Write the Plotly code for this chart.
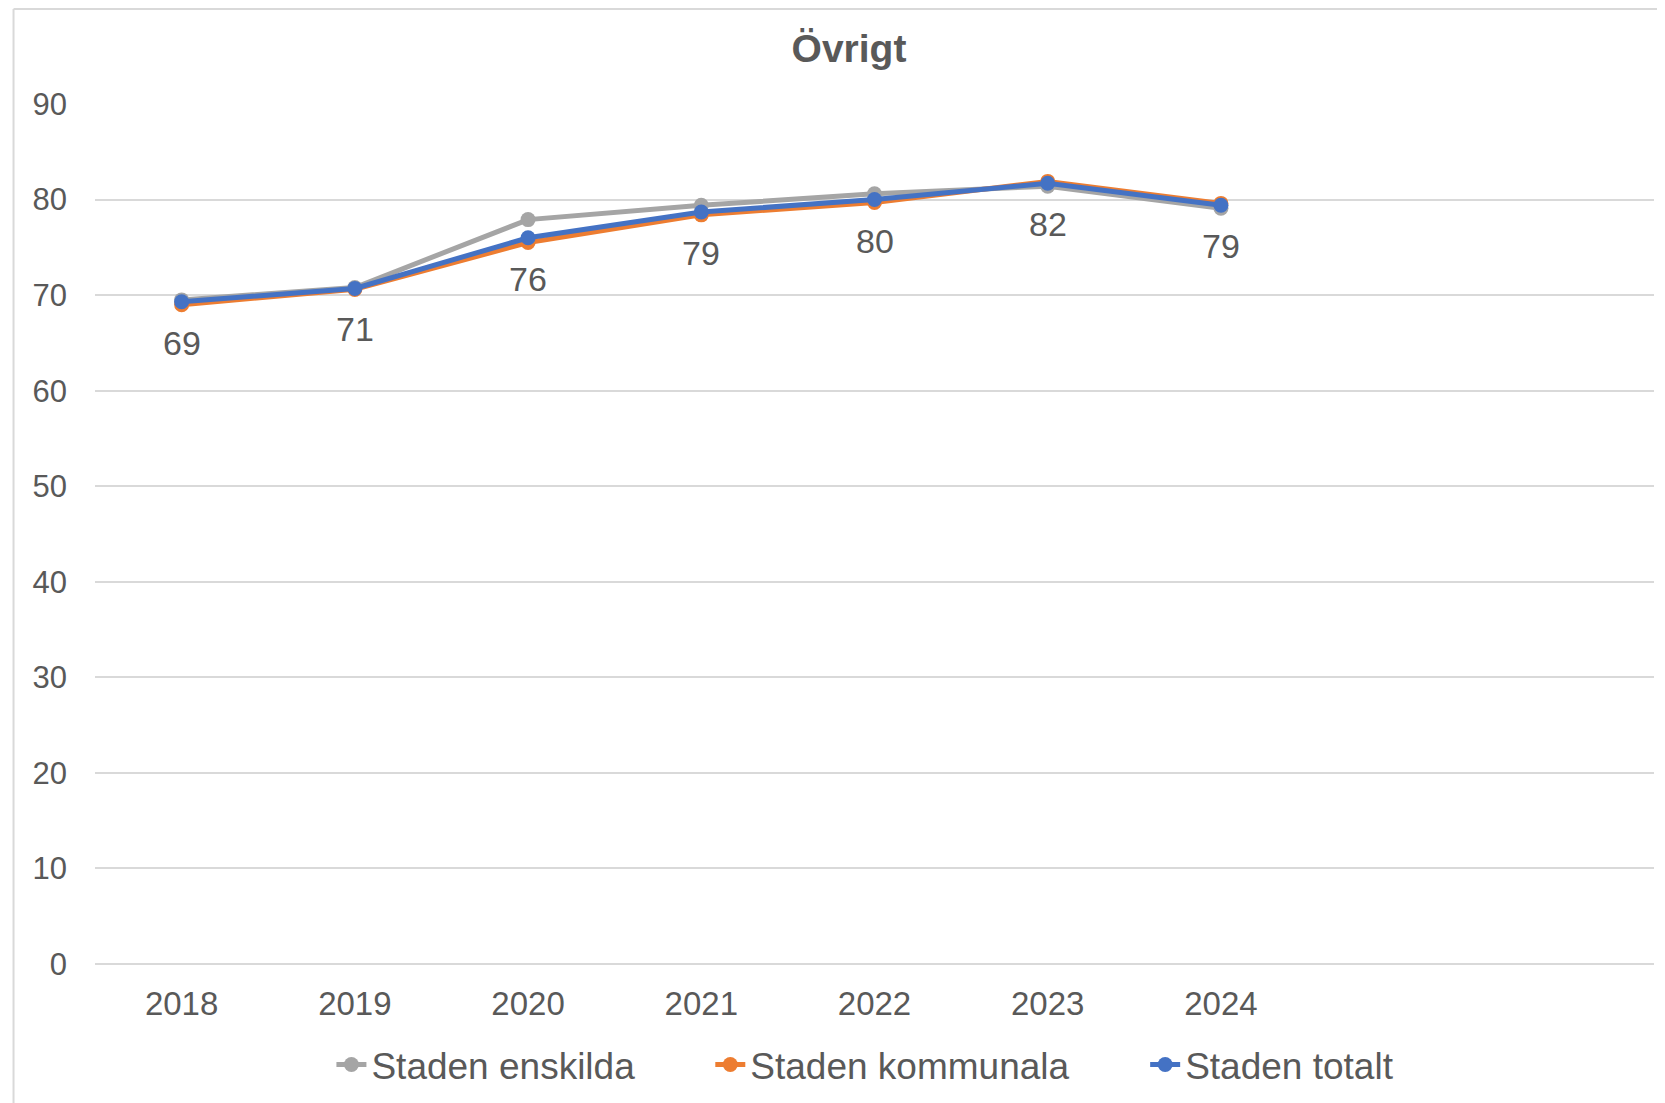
import plotly.graph_objects as go

years = [2018, 2019, 2020, 2021, 2022, 2023, 2024]
enskilda = [69.5, 70.8, 77.9, 79.4, 80.6, 81.4, 79.1]
kommunala = [69.0, 70.6, 75.5, 78.4, 79.7, 81.9, 79.6]
totalt = [69.3, 70.7, 76.0, 78.7, 80.0, 81.7, 79.4]

series = [
    ("Staden enskilda", enskilda, "#A5A5A5"),
    ("Staden kommunala", kommunala, "#ED7D31"),
    ("Staden totalt", totalt, "#4472C4"),
]

FONT = "Liberation Sans, Arial, sans-serif"
TXT = "#595959"

W, H = 1665, 1103
OFF = 8  # page body offset
# plot area in page coordinates
PL, PR, PT, PB = 94.5, 1654, 104, 964
L = PL - OFF
R = W - (PR - OFF)
T = PT - OFF
B = H - (PB - OFF)
pw, ph = W - L - R, H - T - B


def px(x):
    return (x - OFF - L) / pw


def py(y):
    return (H - B - (y - OFF)) / ph


fig = go.Figure()
legend_names = ["legend", "legend2", "legend3"]
text_starts = [376, 755, 1190]
for (name, vals, col), lg in zip(series, legend_names):
    fig.add_trace(go.Scatter(
        x=years, y=vals, name=name, mode="lines+markers",
        line=dict(color=col, width=5),
        marker=dict(color=col, size=15),
        legend=lg,
    ))

for x, v in zip(years, totalt):
    fig.add_annotation(x=x, y=v, text=f"{v:.0f}", showarrow=False,
                       yshift=-41, yanchor="middle",
                       font=dict(family=FONT, size=34, color=TXT))

legend_common = dict(orientation="h", yanchor="middle", y=py(1065),
                     xanchor="left",
                     font=dict(family=FONT, size=37, color=TXT),
                     bgcolor="rgba(0,0,0,0)")
legends = {}
for lg, ts in zip(legend_names, text_starts):
    legends[lg] = dict(legend_common, x=px(ts - 45))

fig.update_layout(
    width=W, height=H,
    margin=dict(l=L, r=R, t=T, b=B, autoexpand=False),
    paper_bgcolor="white", plot_bgcolor="white",
    font=dict(family=FONT, color=TXT, size=31),
    title=dict(text="<b>Övrigt</b>", x=(849 - OFF) / W, xanchor="center",
               y=1 - (48 - OFF) / H, yanchor="middle",
               xref="container", yref="container",
               font=dict(family=FONT, size=39, color=TXT)),
    showlegend=True,
    **legends,
    xaxis=dict(range=[2017.5, 2026.5], tickvals=years,
               ticktext=[str(y) for y in years],
               showgrid=False, zeroline=False, showline=False,
               ticks="", ticklabelstandoff=17,
               tickfont=dict(family=FONT, size=33, color=TXT)),
    yaxis=dict(range=[0, 90], dtick=10, tick0=0,
               showgrid=True, gridcolor="#D9D9D9", gridwidth=1.5,
               zeroline=True, zerolinecolor="#D9D9D9", zerolinewidth=1.5,
               showline=False, ticks="", ticklabelstandoff=27,
               tickfont=dict(family=FONT, size=31, color=TXT)),
    shapes=[
        dict(type="line", xref="paper", yref="paper",
             x0=px(13), x1=px(13), y0=py(OFF + 1), y1=py(H + 20),
             line=dict(color="#D9D9D9", width=2)),
        dict(type="line", xref="paper", yref="paper",
             x0=px(13), x1=px(W + 20), y0=py(OFF + 1), y1=py(OFF + 1),
             line=dict(color="#D9D9D9", width=2)),
    ],
)

fig.write_html("out.html")
